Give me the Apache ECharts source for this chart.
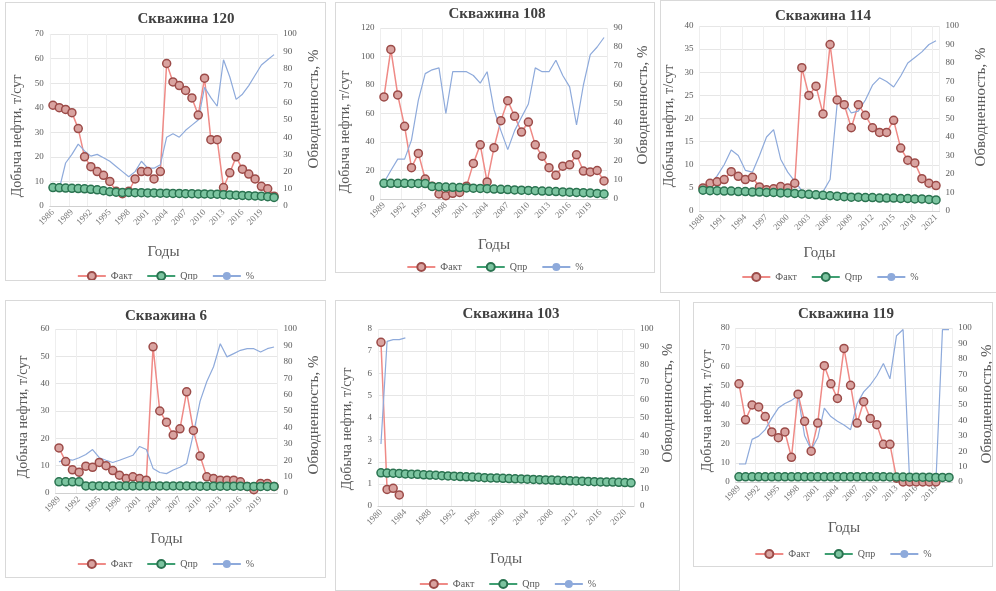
<!DOCTYPE html>
<html>
<head>
<meta charset="utf-8">
<script src="https://cdn.jsdelivr.net/npm/echarts@6/dist/echarts.min.js"></script>
<style>
  body { margin: 0; background: #fff; width: 996px; height: 591px; position: relative; overflow: hidden; }
  .panel { position: absolute; background: #fff; border: 1px solid #d9d9d9; box-sizing: border-box; }
</style>
</head>
<body>
<div id="c1" class="panel"></div>
<div id="c2" class="panel"></div>
<div id="c3" class="panel"></div>
<div id="c4" class="panel"></div>
<div id="c5" class="panel"></div>
<div id="c6" class="panel"></div>
<script>
// years on the x axis
function yearRange(a, b) {
  const out = [];
  for (let y = a; y <= b; y++) out.push(String(y));
  return out;
}
const years120 = yearRange(1986, 2021);
const years108 = yearRange(1989, 2021);
const years114 = yearRange(1988, 2021);
const years6 = yearRange(1989, 2021);
const years103 = yearRange(1980, 2021);
const years119 = yearRange(1989, 2021);

// Скважина 120
const fact120 = [41, 40, 39.3, 38, 31.5, 20, 16, 14, 12.5, 10, 6, 5, 6, 11, 14, 14, 11, 14, 58, 50.5, 49, 47, 44, 37, 52, 27, 27, 7.5, 13.5, 20, 15, 13, 11, 8, 7, 4];
const qpr120 = [7.5, 7.4, 7.3, 7.2, 7.1, 7, 6.8, 6.6, 6.2, 5.8, 5.6, 5.5, 5.5, 5.4, 5.4, 5.3, 5.3, 5.2, 5.2, 5.1, 5.1, 5, 5, 4.9, 4.9, 4.8, 4.8, 4.6, 4.5, 4.4, 4.3, 4.2, 4.1, 4, 3.8, 3.5];
const water120 = [10, 10, 25, 30, 36, 32, 29, 30, 28, 26, 23, 20, 17, 20, 26, 22, 22, 24, 40, 42, 40, 44, 47, 50, 69, 63, 58, 85, 75, 62, 65, 70, 76, 82, 85, 88];

// Скважина 108
const fact108 = [71.6, 105, 73, 51, 22, 32, 14, 9, 3.5, 2.3, 4, 4.6, 9, 25, 38, 12, 36, 55, 69, 58, 47, 54, 38, 30, 22, 16.6, 23, 24, 31, 19.6, 19, 20, 12.7];
const qpr108 = [11, 11, 11, 11, 10.9, 10.9, 10.8, 8.8, 8.6, 8.4, 8.2, 8, 7.8, 7.6, 7.4, 7.2, 7, 6.8, 6.6, 6.4, 6.2, 6, 5.8, 5.6, 5.4, 5.2, 5, 4.8, 4.6, 4.4, 4.2, 3.9, 3.5];
const water108 = [8.7, 15, 21, 21, 31, 52, 66, 68, 69, 45, 67, 67, 67, 65, 61, 67, 47, 36, 26, 36, 43, 50, 69, 67, 67, 73, 65, 59, 39, 60, 76, 80, 85];

// Скважина 114
const fact114 = [5, 6, 6.3, 6.8, 8.5, 7.5, 6.8, 7.3, 5.2, 4.6, 4.8, 5.3, 5, 6, 31, 25, 27, 21, 36, 24, 23, 18, 23, 20.7, 18, 17, 17, 19.6, 13.6, 11, 10.4, 7, 6, 5.5];
const qpr114 = [4.5, 4.4, 4.4, 4.3, 4.3, 4.2, 4.2, 4.1, 4.1, 4, 4, 3.9, 3.9, 3.8, 3.7, 3.6, 3.5, 3.4, 3.3, 3.2, 3.1, 3, 3, 2.9, 2.9, 2.8, 2.8, 2.8, 2.7, 2.7, 2.6, 2.6, 2.5, 2.4];
const water114 = [11.6, 14, 19, 25, 33, 30, 22, 21, 30, 40, 44, 28, 21, 16, 11, 10, 9.8, 10.5, 17, 58, 59, 53, 54, 60, 68, 72, 70, 67, 73, 80, 83, 86, 90, 92];

// Скважина 6
const fact6 = [16.5, 11.5, 8.5, 7.6, 9.8, 9.4, 11.2, 10, 8.2, 6.5, 5.3, 5.9, 5.3, 4.7, 53.5, 30, 25.9, 21.2, 23.5, 37, 22.9, 13.5, 5.9, 5.3, 4.7, 4.7, 4.7, 4.1, 2.4, 1.2, 3.5, 3.5, 2.4];
const qpr6 = [4.1, 4.1, 4.1, 4.1, 2.6, 2.6, 2.6, 2.6, 2.6, 2.6, 2.6, 2.6, 2.6, 2.6, 2.6, 2.6, 2.6, 2.6, 2.6, 2.6, 2.6, 2.5, 2.5, 2.5, 2.5, 2.5, 2.5, 2.5, 2.4, 2.4, 2.4, 2.4, 2.4];
const water6 = [19, 20.6, 20, 21.5, 23.5, 26.5, 21.5, 20, 18.6, 20, 21.5, 23, 28.4, 26.5, 15, 12.5, 11.8, 14, 15.7, 18, 36, 56, 68, 77, 91, 83, 85, 87, 88, 88, 86, 88, 89];

// Скважина 103
const fact103 = [7.4, 0.75, 0.8, 0.5, null, null, null, null, null, null, null, null, null, null, null, null, null, null, null, null, null, null, null, null, null, null, null, null, null, null, null, null, null, null, null, null, null, null, null, null, null, null];
const qpr103 = [1.5, 1.49, 1.48, 1.47, 1.45, 1.44, 1.43, 1.41, 1.4, 1.39, 1.37, 1.36, 1.35, 1.33, 1.32, 1.31, 1.3, 1.28, 1.27, 1.26, 1.25, 1.24, 1.23, 1.22, 1.21, 1.2, 1.19, 1.18, 1.17, 1.16, 1.15, 1.14, 1.13, 1.12, 1.11, 1.1, 1.09, 1.08, 1.08, 1.07, 1.06, 1.05];
const water103 = [35, 93, 94, 94, 95, null, null, null, null, null, null, null, null, null, null, null, null, null, null, null, null, null, null, null, null, null, null, null, null, null, null, null, null, null, null, null, null, null, null, null, null, null];

// Скважина 119
const fact119 = [51, 32.3, 40, 39, 34, 26, 23, 26, 12.8, 45.6, 31.5, 16, 30.6, 60.4, 51, 43.4, 69.4, 50.2, 30.6, 41.7, 33, 29.8, 19.6, 19.6, 2, 0, 0, 0, 0, 0, 0, null, null];
const qpr119 = [2.7, 2.7, 2.7, 2.7, 2.7, 2.7, 2.7, 2.7, 2.7, 2.7, 2.7, 2.7, 2.7, 2.7, 2.7, 2.7, 2.7, 2.7, 2.7, 2.7, 2.7, 2.7, 2.7, 2.6, 2.6, 2.6, 2.5, 2.5, 2.5, 2.5, 2.4, 2.4, 2.4];
const water119 = [11.7, 11.7, 27.7, 29.8, 34, 41.5, 48, 51, 53, 56, 30, 21, 28.7, 48, 42.5, 39.4, 37, 34, 51, 58.5, 63, 69, 77, 67, 95, 99, 0, 0, 0, 0, 0, 99, 99];

const legendNames = ['Факт', 'Qпр', '%'];
const leftName = 'Добыча нефти, т/сут';
const rightName = 'Обводненность, %';
const xName = 'Годы';

// layout of each panel in page pixels
const panels = [
  { id: 'c1', title: 'Скважина 120', years: years120, fact: fact120, qpr: qpr120, water: water120,
    box: [5, 2, 321, 279], plot: [52, 33, 275, 207], leftAxis: [0, 70, 10], rightAxis: [0, 100, 10],
    titleX: 185, titleY: 18, leftNameAt: [16, 135], rightNameAt: [313, 108], xNameY: 253, legendY: 272, every: 2 },
  { id: 'c2', title: 'Скважина 108', years: years108, fact: fact108, qpr: qpr108, water: water108,
    box: [335, 2, 320, 271], plot: [383, 27, 605, 200], leftAxis: [0, 120, 20], rightAxis: [0, 90, 10],
    titleX: 496, titleY: 13, leftNameAt: [344, 131], rightNameAt: [642, 104], xNameY: 246, legendY: 263, every: 2 },
  { id: 'c3', title: 'Скважина 114', years: years114, fact: fact114, qpr: qpr114, water: water114,
    box: [660, 0, 340, 293], plot: [702, 25, 937, 212], leftAxis: [0, 40, 5], rightAxis: [0, 100, 10],
    titleX: 822, titleY: 15, leftNameAt: [668, 125], rightNameAt: [980, 106], xNameY: 254, legendY: 273, every: 2 },
  { id: 'c4', title: 'Скважина 6', years: years6, fact: fact6, qpr: qpr6, water: water6,
    box: [5, 300, 321, 278], plot: [58, 328, 275, 494], leftAxis: [0, 60, 10], rightAxis: [0, 100, 10],
    titleX: 165, titleY: 315, leftNameAt: [22, 416], rightNameAt: [313, 414], xNameY: 540, legendY: 560, every: 2 },
  { id: 'c5', title: 'Скважина 103', years: years103, fact: fact103, qpr: qpr103, water: water103,
    box: [335, 300, 345, 291], plot: [380, 328, 632, 507], leftAxis: [0, 8, 1], rightAxis: [0, 100, 10],
    titleX: 510, titleY: 313, leftNameAt: [346, 428], rightNameAt: [667, 402], xNameY: 560, legendY: 580, every: 3 },
  { id: 'c6', title: 'Скважина 119', years: years119, fact: fact119, qpr: qpr119, water: water119,
    box: [693, 302, 300, 265], plot: [738, 327, 950, 483], leftAxis: [0, 80, 10], rightAxis: [0, 100, 10],
    titleX: 845, titleY: 313, leftNameAt: [706, 410], rightNameAt: [986, 403], xNameY: 529, legendY: 550, every: 2 }
];

const textColor = '#595959';
const serif = '"Liberation Serif", "DejaVu Serif", serif';

panels.forEach(p => {
  const el = document.getElementById(p.id);
  const [bx, by, bw, bh] = p.box;
  el.style.left = bx + 'px';
  el.style.top = by + 'px';
  el.style.width = bw + 'px';
  el.style.height = bh + 'px';

  const n = p.years.length;
  const half = (p.plot[2] - p.plot[0]) / (n - 1) / 2;
  const gLeft = p.plot[0] - half - bx;
  const gRight = bx + bw - (p.plot[2] + half);
  const gTop = p.plot[1] - by;
  const gBottom = by + bh - p.plot[3];

  const chart = echarts.init(el, null, { renderer: 'canvas' });
  chart.setOption({
    animation: false,
    textStyle: { fontFamily: serif, color: textColor },
    graphic: [{
      type: 'text',
      x: p.titleX - bx,
      y: p.titleY - by,
      style: { text: p.title, font: 'bold 15px ' + serif, fill: '#404040', align: 'center', verticalAlign: 'middle' }
    }, {
      type: 'text',
      x: p.leftNameAt[0] - bx,
      y: p.leftNameAt[1] - by,
      rotation: Math.PI / 2,
      style: { text: leftName, font: '14px ' + serif, fill: textColor, align: 'center', verticalAlign: 'middle' }
    }, {
      type: 'text',
      x: p.rightNameAt[0] - bx,
      y: p.rightNameAt[1] - by,
      rotation: Math.PI / 2,
      style: { text: rightName, font: '15px ' + serif, fill: textColor, align: 'center', verticalAlign: 'middle' }
    }],
    grid: { left: gLeft, right: gRight, top: gTop, bottom: gBottom },
    legend: {
      data: legendNames,
      top: p.legendY - by - 7,
      left: 'center',
      itemWidth: 28,
      itemHeight: 10,
      itemGap: 14,
      textStyle: { fontSize: 10, color: textColor, fontFamily: serif }
    },
    xAxis: {
      type: 'category',
      data: p.years,
      boundaryGap: true,
      name: xName,
      nameLocation: 'middle',
      nameGap: p.xNameY - p.plot[3] - 7,
      nameTextStyle: { fontSize: 15, color: textColor, fontFamily: serif },
      axisLine: { lineStyle: { color: '#d0d0d0' } },
      axisTick: { show: false },
      axisLabel: { rotate: 45, interval: p.every, fontSize: 9, color: '#7a7a7a', margin: 5, fontFamily: serif },
      splitLine: { show: true, interval: p.every, lineStyle: { color: '#eeeeee' } }
    },
    yAxis: [{
      type: 'value',
      min: p.leftAxis[0], max: p.leftAxis[1], interval: p.leftAxis[2],
      axisLine: { show: false },
      axisTick: { show: false },
      axisLabel: { fontSize: 9, color: textColor, margin: 6, fontFamily: serif },
      splitLine: { lineStyle: { color: '#e6e6e6' } }
    }, {
      type: 'value',
      position: 'right',
      min: p.rightAxis[0], max: p.rightAxis[1], interval: p.rightAxis[2],
      axisLine: { show: false },
      axisTick: { show: false },
      axisLabel: { fontSize: 9, color: textColor, margin: 6, fontFamily: serif },
      splitLine: { show: false }
    }],
    series: [{
      name: 'Факт',
      type: 'line',
      data: p.fact,
      symbol: 'circle',
      symbolSize: 8,
      showAllSymbol: true,
      lineStyle: { color: '#ef8a86', width: 1.5 },
      itemStyle: { color: '#d9a3a0', borderColor: '#9c4b48', borderWidth: 1.5 }
    }, {
      name: 'Qпр',
      type: 'line',
      data: p.qpr,
      symbol: 'circle',
      symbolSize: 8,
      showAllSymbol: true,
      lineStyle: { color: '#3f9f72', width: 1.5 },
      itemStyle: { color: '#7cc4a0', borderColor: '#2a7350', borderWidth: 1.5 }
    }, {
      name: '%',
      type: 'line',
      yAxisIndex: 1,
      data: p.water,
      symbol: 'none',
      lineStyle: { color: '#8eaadb', width: 1.2 },
      itemStyle: { color: '#8eaadb' }
    }]
  });
});
</script>
</body>
</html>
